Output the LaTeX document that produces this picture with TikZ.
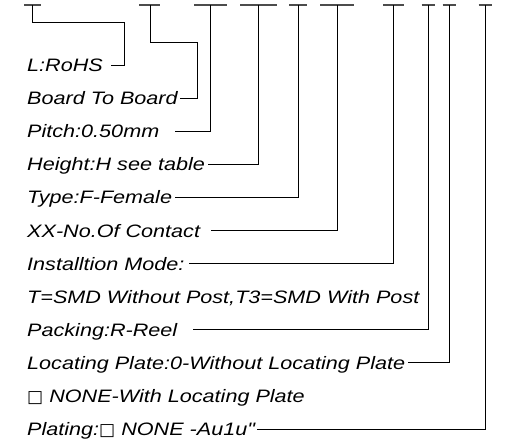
\documentclass[tikz,border=0pt]{standalone}
\usepackage{fontspec}
\newfontfamily\isof{Liberation Sans}[FakeStretch=1.2]
\newfontfamily\symf{DejaVu Sans}
\newcommand{\bx}{{\symf\fontsize{17}{17}\selectfont □}}
\begin{document}
\begin{tikzpicture}[x=1pt,y=-1pt,
  lbl/.style={anchor=west,inner sep=0pt,text height=15pt,text depth=2pt,
    font=\isof\itshape\fontsize{18}{18}\selectfont},
  bar/.style={line width=1.3pt,draw=black!70},
  lead/.style={line width=0.9pt,draw=black}]
\useasboundingbox (0,0) rectangle (510,439);
% labels
\node[lbl] (l1) at (27,65) {L:RoHS};
\node[lbl] (l2) at (27,98.1) {Board To Board};
\node[lbl] (l3) at (27,131.2) {Pitch:0.50mm};
\node[lbl] (l4) at (27,164.3) {Height:H see table};
\node[lbl] (l5) at (27,197.4) {Type:F-Female};
\node[lbl] (l6) at (27,230.5) {XX-No.Of Contact};
\node[lbl] (l7) at (27,263.6) {Installtion Mode:};
\node[lbl] (l8) at (27,296.7) {T=SMD Without Post,T3=SMD With Post};
\node[lbl] (l9) at (27,329.8) {Packing:R-Reel};
\node[lbl] (l10) at (27,362.9) {Locating Plate:0-Without Locating Plate};
\node[lbl] (l11) at (27,396) {\bx{} NONE-With Locating Plate};
\node[lbl] (l12) at (27,429.1) {Plating:\bx{} NONE -Au1u"};
% tab tops
\coordinate (t1) at (32.5,5);
\coordinate (t2) at (150,5);
\coordinate (t3) at (210,5);
\coordinate (t4) at (258,5);
\coordinate (t5) at (298,5);
\coordinate (t6) at (337,5);
\coordinate (t7) at (393,5);
\coordinate (t8) at (428,5);
\coordinate (t9) at (449,5);
\coordinate (t10) at (485,5);
% bars
\draw[bar] ([xshift=-8.5pt]t1) -- ([xshift=8.5pt]t1);
\draw[bar] ([xshift=-11pt]t2) -- ([xshift=10pt]t2);
\draw[bar] ([xshift=-16pt]t3) -- ([xshift=17pt]t3);
\draw[bar] ([xshift=-18pt]t4) -- ([xshift=19pt]t4);
\draw[bar] ([xshift=-9pt]t5) -- ([xshift=9pt]t5);
\draw[bar] ([xshift=-17pt]t6) -- ([xshift=17pt]t6);
\draw[bar] ([xshift=-10pt]t7) -- ([xshift=11pt]t7);
\draw[bar] ([xshift=-6.5pt]t8) -- ([xshift=6.5pt]t8);
\draw[bar] ([xshift=-6.5pt]t9) -- ([xshift=6.5pt]t9);
\draw[bar] ([xshift=-6.5pt]t10) -- ([xshift=6.5pt]t10);
% leaders
\draw[lead] (t1) -- ++(0,17) -| (124,65) -- ([xshift=8pt]l1.east);
\draw[lead] (t2) -- ++(0,37) -| (197,98.1) -- ([xshift=2pt]l2.east);
\draw[lead] (t3) |- ([xshift=16pt]l3.east);
\draw[lead] (t4) |- ([xshift=3pt]l4.east);
\draw[lead] (t5) |- ([xshift=3pt]l5.east);
\draw[lead] (t6) |- ([xshift=11pt]l6.east);
\draw[lead] (t7) |- ([xshift=4pt]l7.east);
\draw[lead] (t8) |- ([xshift=16pt]l9.east);
\draw[lead] (t9) |- ([xshift=3pt]l10.east);
\draw[lead] (t10) |- ([xshift=2pt]l12.east);
\end{tikzpicture}
\end{document}
